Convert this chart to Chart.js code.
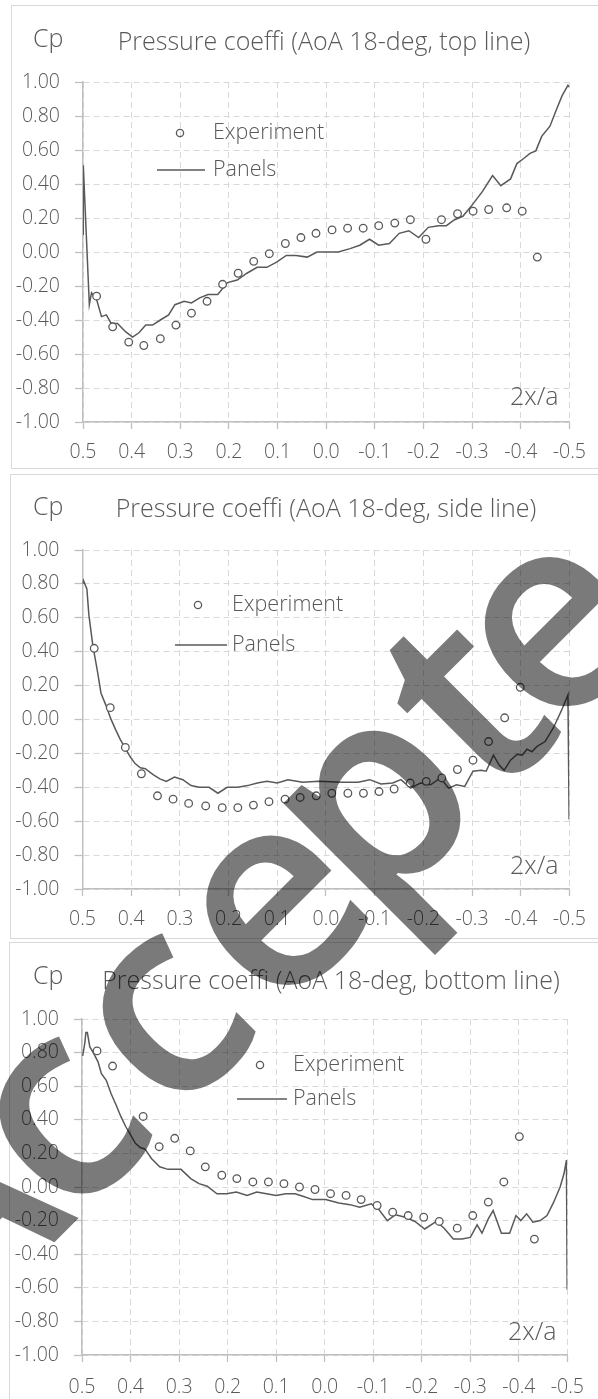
<!DOCTYPE html>
<html>
<head>
<meta charset="utf-8">
<title>Pressure coefficient, AoA 18 deg</title>
<script src="https://cdn.jsdelivr.net/npm/chart.js@4.4.1/dist/chart.umd.min.js"></script>
<style>
html, body { margin: 0; padding: 0; background: #fff; overflow: hidden; }
body { width: 598px; height: 1399px; position: relative; }
.panel { position: absolute; border: 1.5px solid #d9d9d9; box-sizing: border-box; width: 640px; }
canvas.chart { position: absolute; left: 0; }
#stamp { position: absolute; left: 0; top: 0; pointer-events: none; }
</style>
</head>
<body>
<div class="panel" style="left:11px;top:5px;height:464px"></div>
<div class="panel" style="left:10px;top:474px;height:465px"></div>
<div class="panel" style="left:9px;top:942px;height:480px"></div>
<canvas class="chart" id="cpTop" width="598" height="462" style="top:6px"></canvas>
<canvas class="chart" id="cpSide" width="598" height="463" style="top:475px"></canvas>
<canvas class="chart" id="cpBottom" width="598" height="456" style="top:943px"></canvas>
<canvas id="stamp" width="598" height="1399"></canvas>
<script>
// axis ticks
var xTickVals = [0.5, 0.4, 0.3, 0.2, 0.1, 0, -0.1, -0.2, -0.3, -0.4, -0.5];
var yTickVals = [1, 0.8, 0.6, 0.4, 0.2, 0, -0.2, -0.4, -0.6, -0.8, -1];
var seriesNames = ['Experiment', 'Panels'];

// top line
var topExpX = [0.472, 0.439, 0.406, 0.375, 0.341, 0.309, 0.277, 0.245, 0.213, 0.181, 0.149, 0.117, 0.084, 0.052, 0.021, -0.012, -0.044, -0.076, -0.108, -0.141, -0.173, -0.205, -0.237, -0.270, -0.302, -0.334, -0.371, -0.403, -0.434];
var topExpCp = [-0.26, -0.44, -0.53, -0.55, -0.51, -0.43, -0.36, -0.29, -0.19, -0.125, -0.055, -0.01, 0.05, 0.085, 0.11, 0.13, 0.14, 0.14, 0.155, 0.17, 0.19, 0.075, 0.19, 0.225, 0.24, 0.25, 0.26, 0.24, -0.03];
var topPanX = [0.4994, 0.4994, 0.487, 0.4825, 0.472, 0.462, 0.452, 0.442, 0.429, 0.412, 0.398, 0.385, 0.371, 0.357, 0.341, 0.324, 0.311, 0.292, 0.277, 0.260, 0.243, 0.223, 0.203, 0.183, 0.163, 0.142, 0.122, 0.102, 0.082, 0.062, 0.039, 0.019, -0.025, -0.049, -0.069, -0.089, -0.108, -0.130, -0.150, -0.170, -0.190, -0.210, -0.231, -0.247, -0.264, -0.281, -0.301, -0.321, -0.342, -0.359, -0.379, -0.392, -0.406, -0.419, -0.431, -0.443, -0.460, -0.473, -0.485, -0.497, -0.5];
var topPanCp = [0.10, 0.51, -0.31, -0.24, -0.28, -0.38, -0.37, -0.42, -0.42, -0.47, -0.50, -0.475, -0.43, -0.43, -0.40, -0.37, -0.31, -0.29, -0.30, -0.27, -0.25, -0.25, -0.18, -0.165, -0.125, -0.09, -0.09, -0.06, -0.02, -0.02, -0.03, 0.0, 0.0, 0.02, 0.04, 0.075, 0.04, 0.05, 0.11, 0.125, 0.085, 0.145, 0.155, 0.155, 0.19, 0.21, 0.28, 0.355, 0.45, 0.39, 0.43, 0.52, 0.55, 0.58, 0.595, 0.68, 0.74, 0.835, 0.92, 0.98, 0.97];

// side line
var sideExpX = [0.476, 0.443, 0.412, 0.379, 0.346, 0.314, 0.282, 0.247, 0.213, 0.181, 0.149, 0.117, 0.084, 0.053, 0.020, -0.012, -0.045, -0.077, -0.109, -0.140, -0.173, -0.206, -0.238, -0.270, -0.302, -0.334, -0.367, -0.399];
var sideExpCp = [0.42, 0.07, -0.165, -0.32, -0.45, -0.47, -0.495, -0.51, -0.52, -0.52, -0.505, -0.485, -0.47, -0.46, -0.45, -0.435, -0.435, -0.435, -0.425, -0.41, -0.375, -0.365, -0.345, -0.295, -0.24, -0.13, 0.01, 0.19];
var sidePanX = [0.4994, 0.498, 0.491, 0.487, 0.479, 0.469, 0.462, 0.452, 0.442, 0.432, 0.422, 0.412, 0.402, 0.392, 0.381, 0.371, 0.355, 0.341, 0.328, 0.311, 0.294, 0.277, 0.260, 0.240, 0.222, 0.203, 0.181, 0.161, 0.141, 0.121, 0.100, 0.078, 0.048, 0.015, -0.033, -0.066, -0.090, -0.113, -0.137, -0.154, -0.174, -0.194, -0.215, -0.235, -0.252, -0.268, -0.285, -0.302, -0.319, -0.329, -0.344, -0.356, -0.366, -0.379, -0.393, -0.403, -0.413, -0.423, -0.433, -0.450, -0.467, -0.484, -0.497, -0.4994];
var sidePanCp = [0.80, 0.82, 0.77, 0.62, 0.44, 0.28, 0.155, 0.085, 0.005, -0.06, -0.12, -0.17, -0.22, -0.26, -0.285, -0.29, -0.325, -0.35, -0.365, -0.34, -0.355, -0.39, -0.40, -0.40, -0.435, -0.40, -0.40, -0.39, -0.375, -0.365, -0.375, -0.355, -0.37, -0.365, -0.37, -0.37, -0.355, -0.38, -0.375, -0.355, -0.405, -0.375, -0.385, -0.345, -0.405, -0.385, -0.395, -0.305, -0.30, -0.305, -0.21, -0.27, -0.30, -0.24, -0.205, -0.21, -0.175, -0.19, -0.16, -0.13, -0.05, 0.055, 0.145, -0.59];

// bottom line
var botExpX = [0.469, 0.437, 0.374, 0.341, 0.309, 0.277, 0.246, 0.212, 0.181, 0.148, 0.116, 0.084, 0.052, 0.020, -0.012, -0.044, -0.075, -0.108, -0.140, -0.172, -0.204, -0.236, -0.273, -0.305, -0.337, -0.369, -0.401, -0.432];
var botExpCp = [0.81, 0.72, 0.42, 0.24, 0.29, 0.215, 0.12, 0.07, 0.05, 0.03, 0.03, 0.02, 0.0, -0.015, -0.04, -0.05, -0.075, -0.11, -0.15, -0.17, -0.18, -0.205, -0.245, -0.17, -0.09, 0.03, 0.30, -0.31];
var botPanX = [0.4986, 0.494, 0.492, 0.489, 0.484, 0.476, 0.467, 0.460, 0.450, 0.440, 0.430, 0.420, 0.410, 0.400, 0.390, 0.380, 0.370, 0.357, 0.340, 0.323, 0.296, 0.276, 0.259, 0.242, 0.222, 0.202, 0.182, 0.160, 0.140, 0.120, 0.100, 0.080, 0.061, 0.045, 0.025, -0.002, -0.029, -0.052, -0.072, -0.096, -0.112, -0.129, -0.146, -0.166, -0.186, -0.206, -0.230, -0.246, -0.265, -0.283, -0.300, -0.314, -0.324, -0.337, -0.347, -0.364, -0.381, -0.394, -0.404, -0.416, -0.429, -0.444, -0.458, -0.471, -0.485, -0.493, -0.498, -0.4995];
var botPanCp = [0.78, 0.86, 0.92, 0.92, 0.835, 0.795, 0.745, 0.675, 0.635, 0.555, 0.49, 0.42, 0.36, 0.31, 0.26, 0.235, 0.225, 0.17, 0.12, 0.105, 0.105, 0.05, 0.02, 0.005, -0.04, -0.04, -0.03, -0.05, -0.03, -0.04, -0.05, -0.04, -0.04, -0.055, -0.075, -0.075, -0.095, -0.105, -0.12, -0.10, -0.135, -0.20, -0.165, -0.18, -0.205, -0.25, -0.205, -0.245, -0.31, -0.31, -0.30, -0.225, -0.275, -0.19, -0.14, -0.275, -0.275, -0.17, -0.20, -0.16, -0.21, -0.20, -0.17, -0.095, 0.0, 0.08, 0.16, -0.61];

var FONT = '"Open Sans", "Segoe UI", "DejaVu Sans", sans-serif';
var INK = '#595959';
Chart.defaults.font.family = FONT;
Chart.defaults.color = INK;

function pts(xs, ys) {
    return xs.map(function (x, i) { return { x: x, y: ys[i] }; });
}

// Cp label, title, 2x/a and the in-plot legend
var annotate = {
    id: 'annotate',
    afterDraw: function (chart, args, o) {
        var ctx = chart.ctx;
        var dy = o.offset;
        var area = chart.chartArea;
        ctx.save();
        ctx.fillStyle = INK;
        ctx.strokeStyle = INK;
        ctx.textBaseline = 'middle';
        ctx.font = '300 25px ' + FONT;
        ctx.textAlign = 'left';
        ctx.fillText('Cp', o.cp[0], o.cp[1] - dy);
        ctx.textAlign = 'center';
        ctx.fillText(o.title, o.titleAt[0], o.titleAt[1] - dy);
        ctx.textAlign = 'right';
        ctx.fillText('2x/a', area.right - 11, area.bottom - o.axisLabelUp);

        ctx.font = '300 21.5px ' + FONT;
        ctx.textAlign = 'left';
        ctx.lineWidth = 1.3;
        ctx.beginPath();
        ctx.arc(o.mark[0], o.mark[1] - dy, 3.6, 0, Math.PI * 2);
        ctx.stroke();
        ctx.fillText(chart.data.datasets[0].label, o.textX, o.mark[1] - dy);
        ctx.lineWidth = 1.6;
        ctx.beginPath();
        ctx.moveTo(o.line[0], o.line[2] - dy);
        ctx.lineTo(o.line[1], o.line[2] - dy);
        ctx.stroke();
        ctx.fillText(chart.data.datasets[1].label, o.textX, o.line[2] - dy);
        ctx.restore();
    }
};

function makeChart(id, cfg) {
    var canvas = document.getElementById(id);
    var H = canvas.height;
    var top = cfg.plotTop - cfg.panelTop;
    var bottom = cfg.plotBottom - cfg.panelTop;
    var gridStyle = { color: '#d9d9d9', lineWidth: 1, tickColor: '#bfbfbf', tickWidth: 1.3 };
    return new Chart(canvas, {
        type: 'scatter',
        data: {
            datasets: [
                {
                    label: seriesNames[0],
                    data: pts(cfg.expX, cfg.expCp),
                    showLine: false,
                    pointRadius: 3.8,
                    pointBorderWidth: 1.3,
                    pointBorderColor: INK,
                    pointBackgroundColor: '#ffffff',
                    order: 0
                },
                {
                    label: seriesNames[1],
                    data: pts(cfg.panX, cfg.panCp),
                    showLine: true,
                    borderColor: INK,
                    borderWidth: 1.5,
                    pointRadius: 0,
                    tension: 0,
                    order: 1
                }
            ]
        },
        options: {
            responsive: false,
            animation: false,
            events: [],
            layout: { padding: { left: 0, top: top, right: 598 - cfg.plotRight, bottom: 0 } },
            plugins: {
                legend: { display: false },
                tooltip: { enabled: false },
                annotate: cfg.notes
            },
            scales: {
                x: {
                    type: 'linear',
                    reverse: true,
                    min: -0.5,
                    max: 0.5,
                    afterBuildTicks: function (s) { s.ticks = xTickVals.map(function (v) { return { value: v }; }); },
                    afterFit: function (s) { s.height = H - bottom; },
                    grid: Object.assign({ tickLength: 7 }, gridStyle),
                    border: { color: '#bfbfbf', width: 1.5, dash: [6, 4] },
                    ticks: {
                        padding: cfg.xPad,
                        maxRotation: 0,
                        font: { size: 19.5, weight: '300' },
                        callback: function (v) { return Number(v).toFixed(1); }
                    }
                },
                y: {
                    type: 'linear',
                    min: -1,
                    max: 1,
                    afterBuildTicks: function (s) { s.ticks = yTickVals.map(function (v) { return { value: v }; }); },
                    afterFit: function (s) { s.width = cfg.plotLeft; },
                    grid: Object.assign({ tickLength: 8 }, gridStyle),
                    border: { color: '#bfbfbf', width: 1.5, dash: [6, 4] },
                    ticks: {
                        padding: 15,
                        font: { size: 19.5, weight: '300' },
                        callback: function (v) { return Number(v).toFixed(2); }
                    }
                }
            }
        },
        plugins: [annotate]
    });
}

makeChart('cpTop', {
    panelTop: 6, plotTop: 82, plotBottom: 422, plotLeft: 83, plotRight: 578, xPad: 12,
    expX: topExpX, expCp: topExpCp, panX: topPanX, panCp: topPanCp,
    notes: {
        offset: 6, title: 'Pressure coeffi (AoA 18-deg, top line)',
        cp: [33, 40], titleAt: [324, 43], axisLabelUp: 24,
        mark: [180, 133], line: [157, 205, 170], textX: 213
    }
});

makeChart('cpSide', {
    panelTop: 475, plotTop: 550, plotBottom: 889, plotLeft: 82.5, plotRight: 578, xPad: 12,
    expX: sideExpX, expCp: sideExpCp, panX: sidePanX, panCp: sidePanCp,
    notes: {
        offset: 475, title: 'Pressure coeffi (AoA 18-deg, side line)',
        cp: [33, 508], titleAt: [326, 510], axisLabelUp: 22,
        mark: [198, 605], line: [175, 227, 645], textX: 232
    }
});

makeChart('cpBottom', {
    panelTop: 943, plotTop: 1019, plotBottom: 1355, plotLeft: 82, plotRight: 579.5, xPad: 14,
    expX: botExpX, expCp: botExpCp, panX: botPanX, panCp: botPanCp,
    notes: {
        offset: 943, title: 'Pressure coeffi (AoA 18-deg, bottom line)',
        cp: [33, 977], titleAt: [331, 982], axisLabelUp: 22,
        mark: [260, 1065], line: [237, 287, 1099], textX: 293
    }
});

// diagonal "Accepted" stamp laid over the three panels;
// each letter is centred at its own distance along a 45-degree baseline
(function () {
    var letters = ['A', 'c', 'c', 'e', 'p', 't', 'e', 'd'];
    var centres = [-895, -748, -602, -447, -300, -168, -53, 125];
    var c = document.getElementById('stamp');
    var ctx = c.getContext('2d');
    ctx.font = '600 275px ' + FONT;
    ctx.fillStyle = 'rgba(0,0,0,0.52)';
    ctx.textBaseline = 'alphabetic';
    ctx.translate(648.4, 648.4);
    ctx.rotate(-Math.PI / 4);
    letters.forEach(function (ch, i) {
        var m = ctx.measureText(ch);
        var mid = (m.actualBoundingBoxRight - m.actualBoundingBoxLeft) / 2;
        ctx.fillText(ch, centres[i] - mid, 0);
    });
})();
</script>
</body>
</html>
